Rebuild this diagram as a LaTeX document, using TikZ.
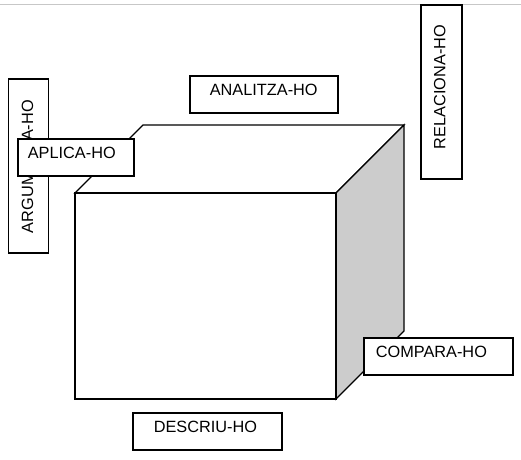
\documentclass[tikz,border=0pt]{standalone}
\usepackage{fontspec}
\setmainfont{Liberation Sans}
\newcommand{\padtxt}[3]{\makebox[#1pt][l]{\hspace{#2pt}#3}}
\begin{document}
\begin{tikzpicture}[x=1pt,y=-1pt,
  cubeline/.style={draw=black, line width=1.3pt, line join=miter},
  tbox/.style={draw=black, fill=white, line width=1.7pt, inner xsep=0pt,
    font=\fontsize{16.3}{19}\selectfont, text=black},
  hbox/.style={tbox, anchor=north west, text height=12pt, text depth=9pt, inner ysep=8pt},
  vbox/.style={tbox, rotate=90, anchor=center, text height=12pt, inner ysep=12.5pt}
]
\useasboundingbox (0,0) rectangle (521,459);
\draw[draw=black!22, line width=1pt] (0,4.3) -- (521,4.3);

% cube
\coordinate (ftl) at (75,193);
\coordinate (ftr) at (336,193);
\coordinate (fbr) at (336,399);
\coordinate (fbl) at (75,399);
\coordinate (btl) at (143,125);
\coordinate (btr) at (404,125);
\coordinate (bbr) at (404,331);
\filldraw[cubeline, fill=white] (ftl) -- (btl) -- (btr) -- (ftr) -- cycle;
\filldraw[cubeline, fill=black!20] (ftr) -- (btr) -- (bbr) -- (fbr) -- cycle;
\filldraw[cubeline, fill=white] (ftl) rectangle (fbr);

% labels
\node[vbox, text depth=3pt] (argumenta) at (28.5,166) {\padtxt{174}{20}{ARGUMENTA-HO}};
\node[vbox, text depth=4.5pt] (relaciona) at (441.5,92) {\padtxt{174}{30}{RELACIONA-HO}};
\node[hbox] (analitza) at (189,75) {\padtxt{148}{20}{ANALITZA-HO}};
\node[hbox] (aplica) at (17,138) {\padtxt{116}{10}{APLICA-HO}};
\node[hbox] (compara) at (363,337) {\padtxt{149}{12}{COMPARA-HO}};
\node[hbox] (descriu) at (132,412) {\padtxt{149}{21}{DESCRIU-HO}};
\end{tikzpicture}
\end{document}
